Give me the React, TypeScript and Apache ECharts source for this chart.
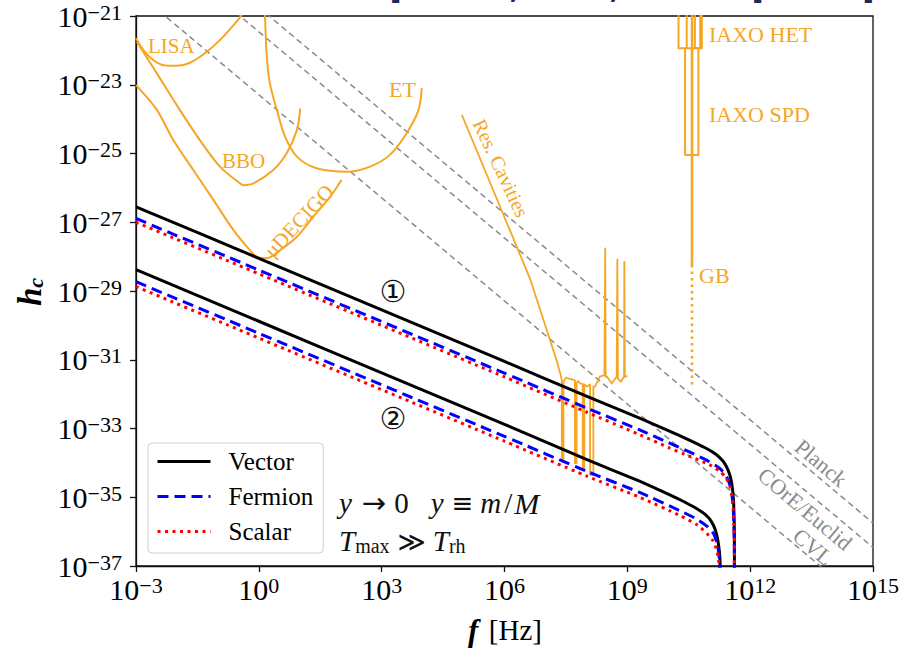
import React, { useEffect, useRef } from 'react';
import * as echarts from 'echarts';

// All values are exponents: [log10(f / Hz), log10(h_c)]
const xTicks = [-3, 0, 3, 6, 9, 12, 15];
const yTicks = [-37, -35, -33, -31, -29, -27, -25, -23, -21];

// ① upper family
const vectorUpper = [[-3, -26.55], [0, -28.05], [3, -29.55], [6, -31.05], [8, -32.06], [9.3, -32.7], [10, -33.06], [10.5, -33.33], [10.9, -33.56], [11.1, -33.7], [11.25, -33.84], [11.38, -34.02], [11.47, -34.24], [11.53, -34.48], [11.57, -34.78], [11.595, -35.15], [11.61, -35.7], [11.615, -36.4], [11.615, -37.5]];
const fermionUpper = [[-3, -26.89], [0, -28.39], [3, -29.89], [6, -31.39], [8, -32.4], [9.3, -33.04], [10, -33.41], [10.5, -33.67], [10.9, -33.9], [11.15, -34.07], [11.3, -34.21], [11.42, -34.4], [11.5, -34.62], [11.55, -34.89], [11.585, -35.3], [11.605, -35.9], [11.615, -36.6], [11.615, -37.5]];
const scalarUpper = [[-3, -27.0], [0, -28.5], [3, -30.0], [6, -31.5], [8, -32.52], [9.3, -33.18], [10, -33.55], [10.5, -33.8], [11.0, -34.05], [11.25, -34.24], [11.4, -34.42], [11.5, -34.66], [11.56, -34.98], [11.59, -35.35], [11.605, -35.85], [11.615, -36.5], [11.615, -37.5]];
// ② lower family
const vectorLower = [[-3, -28.38], [0, -29.88], [3, -31.38], [6, -32.88], [8, -33.9], [9.3, -34.53], [9.8, -34.8], [10.3, -35.08], [10.65, -35.3], [10.9, -35.5], [11.05, -35.7], [11.15, -35.95], [11.21, -36.25], [11.25, -36.6], [11.265, -36.9], [11.27, -37.5]];
const fermionLower = [[-3, -28.73], [0, -30.23], [3, -31.73], [6, -33.23], [8, -34.24], [9.3, -34.86], [10.3, -35.4], [10.7, -35.64], [10.95, -35.85], [11.1, -36.05], [11.19, -36.33], [11.235, -36.65], [11.255, -37.0], [11.26, -37.5]];
const scalarLower = [[-3, -28.87], [0, -30.37], [3, -31.87], [6, -33.37], [8, -34.38], [9.3, -35.0], [10.3, -35.54], [10.7, -35.8], [10.95, -36.06], [11.1, -36.28], [11.18, -36.52], [11.22, -36.76], [11.245, -37.0], [11.25, -37.5]];

// CMB bounds (gray dashed)
const planck = [[-3, -17.75], [15, -35.75]];
const coreEuclid = [[-3, -18.46], [15, -36.46]];
const cvl = [[-3, -20.29], [15, -38.29]];

// Detector sensitivities (orange)
const lisa = [[-3.0, -21.65], [-2.82, -21.99], [-2.58, -22.28], [-2.33, -22.43], [-2.01, -22.45], [-1.68, -22.36], [-1.27, -22.04], [-0.87, -21.6], [-0.46, -21.04], [-0.39, -20.9]];
const bbo = [[-2.98, -21.75], [-2.49, -22.67], [-1.93, -23.73], [-1.44, -24.61], [-0.95, -25.38], [-0.46, -25.87], [-0.38, -25.92], [-0.13, -25.87], [0.35, -25.48], [0.68, -24.99], [0.93, -24.32], [1.01, -23.69]];
const decigo = [[-3.0, -23.01], [-2.49, -23.73], [-2.09, -24.61], [-1.6, -25.48], [-1.11, -26.35], [-0.62, -27.23], [-0.22, -27.81], [-0.05, -28.0], [0.19, -28.05], [0.52, -27.81], [0.93, -27.42], [1.33, -26.84], [1.74, -26.26], [2.02, -25.77]];
const et = [[0.15, -20.9], [0.19, -22.09], [0.27, -22.96], [0.44, -23.73], [0.64, -24.51], [0.93, -25.09], [1.41, -25.43], [2.15, -25.53], [2.72, -25.38], [3.2, -25.04], [3.61, -24.41], [3.9, -23.73], [3.98, -23.1]];
const resCavities = [[4.96, -23.88], [6.62, -28.63], [7.03, -30.13], [7.27, -31.01], [7.36, -31.39], [7.4, -31.59],
  [7.4, -33.92], [7.44, -33.92], [7.44, -31.64], [7.5, -31.52], [7.56, -31.54], [7.72, -31.6],
  [7.72, -34.01], [7.76, -34.01], [7.76, -31.68], [7.8, -31.62], [7.85, -31.69], [7.91, -31.7],
  [7.91, -34.21], [7.95, -34.21], [7.95, -31.72], [8.01, -31.78], [8.09, -31.72],
  [8.09, -34.35], [8.17, -34.35], [8.17, -31.78], [8.21, -31.78], [8.33, -31.49], [8.44, -31.45],
  [8.46, -27.76], [8.47, -31.5], [8.5, -31.49], [8.62, -31.69], [8.74, -31.49], [8.756, -28.08], [8.77, -31.55],
  [8.84, -31.64], [8.92, -31.49], [8.927, -28.15], [8.94, -31.5], [8.96, -31.49], [9.0, -31.47]];
const iaxoHet = [[10.25, -20.5], [10.25, -21.94], [10.82, -21.94], [10.82, -20.5]];
const iaxoHetInner = [[10.45, -21.94], [10.45, -20.5], [10.65, -20.5], [10.65, -21.94], [10.78, -21.94], [10.78, -20.5]];
const iaxoSpd = [[10.41, -21.94], [10.41, -25.04], [10.735, -25.04], [10.735, -21.94]];
const gbSolid = [[10.58, -20.5], [10.58, -28.24]];
const gbDotted = [[10.58, -28.24], [10.58, -31.78]];

const ORANGE = '#f6a623';
const GRAY = '#8a8a8a';
const SERIF = "'Liberation Serif', 'DejaVu Serif', serif";
const SYM = "'DejaVu Sans', 'Noto Sans', sans-serif";
const NAVY = '#1b2a59';

function sup(v: number) {
  const s = v < 0 ? '\u2212' + String(-v) : String(v);
  return `{a|10}{b|${s}}`;
}

const labelRich = {
  a: { fontFamily: SERIF, fontSize: 30, lineHeight: 30, color: '#000', verticalAlign: 'bottom' },
  b: { fontFamily: SERIF, fontSize: 22, lineHeight: 22, color: '#000', verticalAlign: 'top', padding: [0, 0, 12, 0] },
};

function ln(name: string, data: number[][], color: string, width: number, type: any, z: number, extra: any = {}) {
  return {
    type: 'line', name, data, symbol: 'none', showSymbol: false, clip: true, silent: true, z,
    lineStyle: { color, width, type, cap: 'butt', join: 'round' },
    itemStyle: { color },
    emphasis: { disabled: true },
    ...extra,
  };
}

function label(text: string, x: number, y: number, opts: any = {}) {
  return {
    type: 'text', x, y, rotation: opts.rotation || 0, silent: true, z: 20,
    style: {
      text, fill: opts.color || ORANGE, fontFamily: opts.fontFamily || SERIF, fontSize: opts.fontSize || 21,
      align: opts.align || 'left', verticalAlign: 'middle', fontStyle: opts.fontStyle || 'normal',
      fontWeight: opts.fontWeight || 'normal', rich: opts.rich,
    },
  };
}

const deg = (d: number) => (d * Math.PI) / 180;
const titleBit = (t: string, x: number) =>
  label(t, x, -14, { color: NAVY, fontFamily: "'Noto Sans', sans-serif", fontSize: 30, fontWeight: 'bold' });

const mathRich = {
  i: { fontFamily: SERIF, fontSize: 29, lineHeight: 29, fontStyle: 'italic', color: '#111' },
  r: { fontFamily: SERIF, fontSize: 29, lineHeight: 29, color: '#111' },
  ar: { fontFamily: SYM, fontSize: 29, lineHeight: 29, color: '#111', padding: [0, 0, 0, 10] },
  z: { fontFamily: SERIF, fontSize: 29, lineHeight: 29, color: '#111', padding: [0, 0, 0, 8] },
  y2: { fontFamily: SERIF, fontSize: 29, lineHeight: 29, fontStyle: 'italic', color: '#111', padding: [0, 0, 0, 22] },
  eq: { fontFamily: SYM, fontSize: 26, lineHeight: 29, color: '#111', padding: [0, 0, 0, 8] },
  m: { fontFamily: SERIF, fontSize: 29, lineHeight: 29, fontStyle: 'italic', color: '#111', padding: [0, 0, 0, 7] },
  sl: { fontFamily: SERIF, fontSize: 29, lineHeight: 29, color: '#111', padding: [0, 2, 0, 3] },
  M: { fontFamily: SERIF, fontSize: 30, lineHeight: 29, fontStyle: 'italic', color: '#111' },
};

const tRich = {
  i: { fontFamily: SERIF, fontSize: 29, lineHeight: 29, fontStyle: 'italic', color: '#111' },
  i2: { fontFamily: SERIF, fontSize: 29, lineHeight: 29, fontStyle: 'italic', color: '#111', padding: [0, 0, 0, 7] },
  gg: { fontFamily: SYM, fontSize: 27, lineHeight: 29, color: '#111', padding: [0, 0, 0, 8] },
  s: { fontFamily: SERIF, fontSize: 20, lineHeight: 20, color: '#111', verticalAlign: 'bottom', padding: [11, 0, 0, 0] },
};

const option: any = {
  animation: false,
  backgroundColor: '#fff',
  grid: { left: 136, right: 44, top: 16, bottom: 83, show: true, borderColor: '#111', borderWidth: 1.3, backgroundColor: 'transparent' },
  xAxis: {
    type: 'value', min: xTicks[0], max: xTicks[xTicks.length - 1], interval: 3,
    axisLine: { show: true, onZero: false, lineStyle: { color: '#111', width: 1.3 } },
    axisTick: { show: true, inside: false, length: 6, lineStyle: { color: '#111', width: 1.3 } },
    splitLine: { show: false },
    axisLabel: { margin: 8, formatter: (v: number) => sup(v), rich: labelRich },
  },
  yAxis: {
    type: 'value', min: yTicks[0], max: yTicks[yTicks.length - 1], interval: 2,
    axisLine: { show: true, onZero: false, lineStyle: { color: '#111', width: 1.3 } },
    axisTick: { show: true, inside: false, length: 6, lineStyle: { color: '#111', width: 1.3 } },
    splitLine: { show: false },
    axisLabel: { margin: 14, formatter: (v: number) => sup(v), rich: labelRich },
  },
  legend: {
    data: ['Vector', 'Fermion', 'Scalar'],
    orient: 'vertical', left: 148, top: 443,
    itemWidth: 53, itemHeight: 2, itemGap: 10,
    padding: [6, 10, 9, 8],
    borderColor: '#cfcfcf', borderWidth: 1, borderRadius: 4,
    backgroundColor: 'rgba(255,255,255,0.85)',
    itemStyle: { opacity: 0 },
    lineStyle: { width: 3 },
    textStyle: { fontFamily: SERIF, fontSize: 25, color: '#000', padding: [0, 0, 0, 13] },
    selectedMode: false,
  },
  series: [
    ln('Planck', planck, GRAY, 1.5, [6, 4], 1),
    ln('COrE/Euclid', coreEuclid, GRAY, 1.5, [6, 4], 1),
    ln('CVL', cvl, GRAY, 1.5, [6, 4], 1),
    ln('LISA', lisa, ORANGE, 2, 'solid', 2, { smooth: 0.3 }),
    ln('BBO', bbo, ORANGE, 2, 'solid', 2, { smooth: 0.3 }),
    ln('μDECIGO', decigo, ORANGE, 2, 'solid', 2, { smooth: 0.3 }),
    ln('ET', et, ORANGE, 2, 'solid', 2, { smooth: 0.3 }),
    ln('Res. Cavities', resCavities, ORANGE, 1.8, 'solid', 2),
    ln('IAXO HET', iaxoHet, ORANGE, 2, 'solid', 2),
    ln('IAXO HET inner', iaxoHetInner, ORANGE, 2, 'solid', 2),
    ln('IAXO SPD', iaxoSpd, ORANGE, 2, 'solid', 2),
    ln('GB', gbSolid, ORANGE, 2.6, 'solid', 2),
    ln('GB dotted', gbDotted, ORANGE, 2.6, [2.5, 4], 2),
    ln('Vector', vectorUpper, '#000', 3, 'solid', 5, { smooth: 0.2 }),
    ln('Vector', vectorLower, '#000', 3, 'solid', 5, { smooth: 0.2 }),
    ln('Fermion', fermionUpper, '#0000ff', 3, [11, 6], 6, { smooth: 0.2 }),
    ln('Fermion', fermionLower, '#0000ff', 3, [11, 6], 6, { smooth: 0.2 }),
    ln('Scalar', scalarUpper, '#ff0000', 3, [3, 4.5], 7, { smooth: 0.2 }),
    ln('Scalar', scalarLower, '#ff0000', 3, [3, 4.5], 7, { smooth: 0.2 }),
  ],
  graphic: [
    // fragments of the slide title cut off above the chart
    titleBit('[', 390), titleBit(',', 510), titleBit(',', 610), titleBit('[', 752), titleBit(']', 864),
    // detector labels
    label('LISA', 148, 46, { fontSize: 21 }),
    label('BBO', 222, 161, { fontSize: 21 }),
    label('ET', 389, 89, { fontSize: 22 }),
    label('μDECIGO', 299, 221, { fontSize: 21, align: 'center', rotation: deg(47) }),
    label('Res. Cavities', 501, 168, { fontSize: 20, align: 'center', rotation: deg(-65) }),
    label('IAXO HET', 709, 34, { fontSize: 22 }),
    label('IAXO SPD', 709, 114, { fontSize: 22 }),
    label('GB', 699, 275, { fontSize: 22 }),
    // CMB labels
    label('Planck', 821, 463, { color: GRAY, fontSize: 22, align: 'center', rotation: deg(-40) }),
    label('COrE/Euclid', 805, 509, { color: GRAY, fontSize: 22, align: 'center', rotation: deg(-40) }),
    label('CVL', 813, 547, { color: GRAY, fontSize: 22, align: 'center', rotation: deg(-40) }),
    // family markers
    label('①', 393, 291, { color: '#111', fontFamily: "'DejaVu Sans', 'Noto Sans CJK SC', sans-serif", fontSize: 30, align: 'center' }),
    label('②', 393, 418, { color: '#111', fontFamily: "'DejaVu Sans', 'Noto Sans CJK SC', sans-serif", fontSize: 30, align: 'center' }),
    // annotations
    label('{i|y}{ar|→}{z|0}{y2|y}{eq|≡}{m|m}{sl|/}{M|M}', 339, 503, { color: '#111', rich: mathRich }),
    label('{i|T}{s|max}{gg|≫}{i2|T}{s|rh}', 339, 541, { color: '#111', rich: tRich }),
    // axis titles
    label('{h|h}{c|c}', 30, 292, {
      color: '#000', align: 'center', rotation: deg(90),
      rich: {
        h: { fontFamily: SERIF, fontSize: 33, lineHeight: 33, fontStyle: 'italic', fontWeight: 'bold', color: '#000' },
        c: { fontFamily: SERIF, fontSize: 22, lineHeight: 22, fontStyle: 'italic', fontWeight: 'bold', color: '#000', verticalAlign: 'bottom', padding: [10, 0, 0, 0] },
      },
    }),
    label('{f|f}  {n|[Hz]}', 505, 630, {
      color: '#000', align: 'center',
      rich: {
        f: { fontFamily: SERIF, fontSize: 31, fontStyle: 'italic', fontWeight: 'bold', color: '#000' },
        n: { fontFamily: SERIF, fontSize: 29, color: '#000' },
      },
    }),
  ],
};

export default function App() {
  const ref = useRef<HTMLDivElement>(null);
  useEffect(() => {
    document.body.style.margin = '0';
    const chart = echarts.init(ref.current!, null, { renderer: 'svg' });
    chart.setOption(option);
    return () => chart.dispose();
  }, []);
  return <div ref={ref} style={{ width: 917, height: 649 }} />;
}
